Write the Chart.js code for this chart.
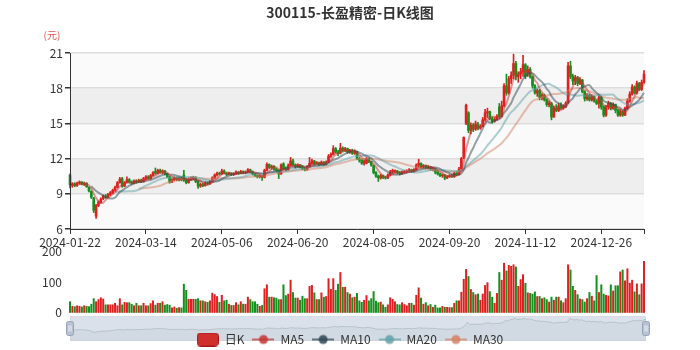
<!DOCTYPE html>
<html>
<head>
<meta charset="utf-8">
<script src="https://cdn.jsdelivr.net/npm/chart.js@4.4.1/dist/chart.umd.min.js"></script>
<style>
    html, body { margin: 0; padding: 0; background: #fff; overflow: hidden; }
    #wrap { position: relative; width: 700px; height: 350px; overflow: hidden; }
    #wrap canvas { position: absolute; left: 0; }
</style>
</head>
<body>
<div id="wrap">
    <canvas id="zoomBar" width="700" height="40" style="top:310px"></canvas>
    <canvas id="vol" width="700" height="92" style="top:236px"></canvas>
    <canvas id="kline" width="700" height="360" style="top:0"></canvas>
</div>
<script>
// trading calendar: first day + market holidays (weekends are skipped too)
const firstDay = '2024-01-22';
const holidays = [
    '2024-02-09', '2024-02-12', '2024-02-13', '2024-02-14', '2024-02-15', '2024-02-16',
    '2024-04-04', '2024-04-05', '2024-05-01', '2024-05-02', '2024-05-03', '2024-06-10',
    '2024-09-16', '2024-09-17', '2024-10-01', '2024-10-02', '2024-10-03', '2024-10-04',
    '2024-10-07', '2025-01-01'
];

const opens = [
    10.60, 9.70, 9.85, 9.70, 9.90, 10.00, 9.80, 9.90, 9.55, 9.20,
    8.60, 7.10, 8.00, 8.30, 8.60, 8.80, 8.70, 8.95, 9.10, 9.30,
    9.55, 9.95, 10.30, 9.65, 9.95, 10.20, 10.00, 9.90, 10.10, 10.00,
    10.15, 10.05, 10.30, 10.45, 10.30, 10.55, 10.90, 10.75, 11.00, 10.85,
    10.95, 10.70, 10.45, 10.00, 10.20, 10.35, 10.20, 10.30, 10.60, 10.15,
    9.95, 10.25, 10.30, 10.35, 10.05, 9.65, 9.80, 9.70, 9.90, 9.85,
    10.05, 10.35, 10.60, 10.75, 10.70, 10.95, 10.75, 10.65, 10.75, 10.65,
    10.70, 10.85, 10.75, 10.90, 10.80, 10.85, 11.05, 10.85, 10.70, 10.55,
    10.45, 10.50, 10.40, 11.00, 11.50, 11.25, 11.35, 11.10, 11.00, 10.70,
    11.55, 11.15, 11.05, 11.40, 11.80, 11.45, 11.30, 11.45, 11.30, 11.15,
    11.05, 11.30, 11.60, 11.80, 11.55, 11.65, 11.50, 11.70, 11.50, 11.70,
    12.20, 12.35, 12.85, 12.55, 12.45, 12.90, 12.70, 12.85, 12.55, 12.70,
    12.45, 12.60, 12.00, 11.85, 11.60, 11.60, 12.00, 11.75, 11.40, 10.80,
    10.50, 10.35, 10.55, 10.40, 10.35, 10.60, 10.85, 10.90, 10.95, 10.80,
    10.70, 10.85, 10.90, 10.95, 11.05, 10.90, 11.05, 11.45, 11.60, 11.30,
    11.40, 11.25, 11.30, 11.10, 11.15, 10.85, 10.70, 10.55, 10.60, 10.35,
    10.45, 10.55, 10.45, 10.75, 10.65, 11.15, 12.10, 15.00, 15.90, 14.40,
    14.85, 14.50, 14.90, 14.60, 14.75, 15.30, 15.90, 16.00, 15.40, 15.20,
    15.35, 16.40, 15.60, 16.50, 18.20, 17.60, 18.80, 19.10, 20.10, 19.00,
    19.20, 19.40, 20.00, 19.30, 19.60, 19.00, 18.20, 17.60, 17.80, 17.20,
    17.40, 17.00, 16.60, 16.70, 15.55, 16.30, 16.10, 16.50, 16.30, 16.45,
    16.80, 19.90, 19.00, 18.60, 18.90, 18.40, 18.70, 17.70, 17.10, 17.40,
    17.00, 17.30, 16.90, 16.70, 17.20, 16.40, 15.70, 16.40, 16.70, 16.30,
    16.60, 16.10, 15.70, 16.00, 15.70, 16.30, 16.90, 17.50, 18.10, 17.60,
    18.40, 17.90, 18.50
];
const closes = [
    9.75, 9.85, 9.70, 9.90, 10.00, 9.80, 9.90, 9.60, 9.25, 8.70,
    7.60, 8.00, 8.30, 8.55, 8.80, 8.70, 8.95, 9.10, 9.30, 9.55,
    9.95, 10.25, 9.65, 9.95, 10.20, 10.00, 9.90, 10.10, 10.00, 10.15,
    10.05, 10.30, 10.45, 10.30, 10.55, 10.80, 10.75, 11.00, 10.85, 10.95,
    10.70, 10.45, 10.00, 10.20, 10.35, 10.20, 10.30, 10.20, 10.15, 9.95,
    10.25, 10.35, 10.40, 10.05, 9.65, 9.80, 9.70, 9.90, 9.85, 10.05,
    10.35, 10.60, 10.75, 10.70, 10.95, 10.75, 10.65, 10.75, 10.65, 10.70,
    10.85, 10.75, 10.90, 10.80, 10.85, 11.05, 10.85, 10.70, 10.55, 10.45,
    10.50, 10.40, 11.00, 11.50, 11.25, 11.35, 11.10, 11.00, 10.70, 11.45,
    11.15, 11.05, 11.40, 11.80, 11.45, 11.30, 11.45, 11.30, 11.15, 11.05,
    11.30, 11.60, 11.80, 11.55, 11.65, 11.50, 11.70, 11.50, 11.70, 12.20,
    12.35, 12.85, 12.55, 12.45, 12.90, 12.70, 12.85, 12.55, 12.70, 12.45,
    12.60, 12.00, 11.85, 11.60, 11.75, 12.00, 11.75, 11.45, 10.80, 10.50,
    10.35, 10.55, 10.40, 10.35, 10.60, 10.85, 11.00, 10.95, 10.80, 10.70,
    10.85, 10.90, 10.95, 11.05, 10.90, 11.05, 11.45, 11.60, 11.30, 11.40,
    11.25, 11.30, 11.10, 11.15, 10.85, 10.70, 10.55, 10.60, 10.35, 10.45,
    10.55, 10.45, 10.75, 10.65, 11.10, 12.00, 13.80, 16.55, 14.40, 14.85,
    14.50, 14.90, 14.60, 14.75, 15.30, 15.90, 16.00, 15.40, 15.20, 15.35,
    15.60, 15.60, 16.50, 18.20, 17.60, 18.80, 19.10, 20.10, 19.00, 19.20,
    19.40, 20.00, 19.00, 19.60, 19.00, 18.20, 17.60, 17.80, 17.20, 17.40,
    17.00, 16.60, 16.75, 15.55, 16.30, 16.10, 16.50, 16.30, 16.45, 16.70,
    19.90, 19.00, 18.60, 18.90, 18.40, 18.70, 17.70, 17.10, 17.40, 17.00,
    17.30, 16.90, 16.70, 17.20, 16.40, 15.70, 16.40, 16.70, 16.30, 16.60,
    16.10, 15.70, 16.00, 15.70, 16.30, 16.90, 17.50, 18.10, 17.60, 18.40,
    17.90, 18.50, 19.20
];
const lows = [
    9.50, 9.55, 9.60, 9.62, 9.80, 9.75, 9.70, 9.55, 9.15, 8.60,
    7.40, 6.90, 7.90, 8.20, 8.50, 8.60, 8.65, 8.85, 9.00, 9.20,
    9.50, 9.90, 9.55, 9.60, 9.90, 9.90, 9.80, 9.85, 9.90, 9.95,
    9.95, 10.00, 10.20, 10.25, 10.25, 10.50, 10.65, 10.70, 10.75, 10.70,
    10.60, 10.40, 9.90, 9.95, 10.10, 10.10, 10.10, 10.10, 10.05, 9.85,
    9.90, 10.15, 10.20, 9.95, 9.45, 9.55, 9.60, 9.65, 9.75, 9.80,
    10.00, 10.30, 10.50, 10.60, 10.65, 10.70, 10.55, 10.60, 10.55, 10.55,
    10.65, 10.65, 10.70, 10.70, 10.70, 10.80, 10.80, 10.60, 10.45, 10.35,
    10.35, 10.15, 10.35, 10.95, 11.15, 11.10, 11.00, 10.90, 10.30, 10.65,
    11.05, 10.95, 11.00, 11.35, 11.35, 11.20, 11.25, 11.20, 11.05, 10.95,
    11.00, 11.25, 11.50, 11.45, 11.50, 11.40, 11.45, 11.40, 11.45, 11.65,
    12.10, 12.30, 12.45, 12.25, 12.40, 12.55, 12.60, 12.45, 12.45, 12.35,
    12.35, 11.90, 11.70, 11.50, 11.45, 11.55, 11.65, 11.35, 10.70, 10.40,
    10.05, 10.25, 10.30, 10.25, 10.30, 10.55, 10.75, 10.80, 10.70, 10.60,
    10.65, 10.75, 10.80, 10.85, 10.80, 10.85, 11.00, 11.30, 11.20, 11.20,
    11.15, 11.15, 11.00, 10.95, 10.70, 10.60, 10.45, 10.40, 10.20, 10.30,
    10.40, 10.40, 10.40, 10.55, 10.60, 11.10, 12.00, 14.90, 14.20, 14.10,
    14.30, 14.40, 14.45, 14.50, 14.70, 15.20, 15.50, 15.30, 15.00, 15.10,
    15.25, 15.45, 15.55, 16.40, 17.40, 17.50, 18.40, 18.80, 18.70, 18.50,
    18.80, 19.00, 18.80, 19.00, 18.85, 18.00, 17.50, 17.30, 17.00, 17.00,
    16.90, 16.45, 16.40, 15.30, 15.50, 16.00, 16.00, 16.20, 16.20, 16.35,
    16.70, 18.80, 18.30, 18.30, 18.20, 18.30, 17.60, 16.90, 16.95, 16.90,
    16.90, 16.80, 16.60, 16.30, 16.20, 15.55, 15.60, 16.20, 16.15, 16.20,
    15.90, 15.60, 15.60, 15.60, 15.65, 16.20, 16.80, 17.40, 17.50, 17.50,
    17.80, 17.80, 18.40
];
const highs = [
    10.70, 9.95, 9.95, 10.00, 10.10, 10.05, 10.00, 9.95, 9.60, 9.25,
    8.70, 8.10, 8.40, 8.65, 8.90, 8.95, 9.05, 9.20, 9.40, 9.65,
    10.05, 10.40, 10.40, 10.05, 10.45, 10.30, 10.10, 10.20, 10.20, 10.25,
    10.25, 10.40, 10.55, 10.55, 10.65, 10.90, 11.20, 11.10, 11.10, 11.05,
    11.00, 10.75, 10.50, 10.30, 10.45, 10.40, 10.40, 10.40, 11.00, 10.30,
    10.35, 10.45, 10.50, 10.45, 10.10, 9.90, 9.90, 10.00, 10.00, 10.15,
    10.45, 10.70, 10.85, 10.85, 11.10, 11.05, 10.85, 10.85, 10.80, 10.80,
    10.95, 10.90, 11.00, 10.95, 10.95, 11.15, 11.10, 10.95, 10.75, 10.60,
    10.60, 10.55, 11.10, 11.65, 11.55, 11.45, 11.40, 11.20, 11.05, 11.55,
    11.65, 11.30, 11.55, 12.10, 11.95, 11.55, 11.55, 11.50, 11.40, 11.25,
    11.40, 12.10, 11.95, 11.85, 11.75, 11.70, 11.80, 11.75, 11.80, 12.35,
    12.50, 13.10, 12.95, 12.70, 13.30, 13.00, 12.95, 12.90, 12.80, 12.80,
    12.75, 12.65, 12.10, 11.95, 11.85, 12.10, 12.05, 11.80, 11.45, 10.90,
    10.60, 10.65, 10.60, 10.50, 10.70, 11.00, 11.10, 11.05, 11.00, 10.90,
    10.95, 11.00, 11.05, 11.15, 11.10, 11.15, 11.55, 11.95, 11.65, 11.50,
    11.45, 11.40, 11.35, 11.25, 11.20, 10.95, 10.75, 10.70, 10.65, 10.55,
    10.65, 10.65, 10.85, 10.90, 11.25, 12.10, 13.85, 16.65, 16.00, 15.05,
    15.00, 15.20, 15.10, 14.90, 15.50, 16.20, 16.30, 16.05, 15.55, 15.50,
    15.75, 16.70, 16.90, 18.40, 19.20, 19.00, 19.40, 20.90, 20.30, 19.40,
    19.70, 20.80, 20.10, 19.90, 19.75, 19.05, 18.30, 17.95, 17.90, 17.55,
    17.50, 17.10, 16.90, 16.80, 16.45, 16.60, 16.70, 16.75, 16.60, 16.85,
    20.20, 20.30, 19.20, 19.10, 19.00, 18.90, 18.75, 17.80, 17.55, 17.50,
    17.45, 17.35, 17.00, 17.30, 17.30, 16.50, 16.55, 16.90, 16.80, 16.75,
    16.65, 16.20, 16.20, 16.10, 16.40, 17.10, 17.70, 18.30, 18.20, 18.60,
    18.50, 18.70, 19.50
];
// 成交量 (万手)
const volumes = [
    37, 22, 21, 24, 22, 20, 24, 22, 21, 29,
    47, 37, 44, 50, 46, 27, 27, 27, 27, 32,
    24, 47, 27, 35, 34, 34, 29, 24, 32, 24,
    24, 32, 24, 24, 31, 40, 26, 32, 32, 37,
    26, 28, 26, 17, 20, 16, 18, 17, 94, 74,
    45, 45, 45, 45, 47, 40, 40, 37, 35, 40,
    65, 60, 54, 35, 58, 40, 42, 29, 25, 25,
    34, 27, 37, 29, 29, 52, 44, 37, 37, 29,
    22, 25, 79, 92, 52, 52, 50, 49, 44, 44,
    92, 57, 62, 107, 67, 49, 49, 42, 55, 47,
    47, 87, 90, 66, 44, 44, 66, 52, 54, 112,
    77, 112, 74, 94, 132, 84, 84, 67, 62, 50,
    52, 64, 40, 35, 42, 57, 40, 47, 70, 39,
    34, 36, 27, 19, 27, 50, 45, 37, 28, 27,
    34, 28, 24, 32, 32, 26, 58, 82, 49, 29,
    34, 24, 28, 19, 26, 17, 17, 22, 19, 19,
    18, 18, 32, 40, 40, 68, 110, 142, 119, 77,
    67, 60, 62, 42, 62, 90, 99, 70, 52, 32,
    64, 132, 107, 162, 137, 155, 152, 157, 150, 87,
    109, 125, 97, 66, 64, 62, 69, 54, 54, 47,
    50, 44, 36, 52, 42, 52, 52, 40, 34, 47,
    157, 140, 87, 74, 60, 46, 44, 36, 47, 67,
    55, 40, 122, 67, 92, 62, 58, 56, 92, 72,
    89, 89, 134, 140, 105, 144, 97, 107, 69, 95,
    60, 95, 168
];
const maDays = [5, 10, 20, 30];
const labelEvery = 32;

const FONT = '"Noto Sans CJK SC", "Noto Sans", sans-serif';
const UP = '#e01f1f';
const DOWN = '#14901c';
const MA_COLORS = ['194,53,49', '47,69,84', '97,160,168', '212,130,101'];

Chart.defaults.font.family = FONT;
Chart.defaults.color = '#333';

function tradingDays(start, count) {
    const out = [];
    const d = new Date(start + 'T00:00:00Z');
    while (out.length < count) {
        const s = d.toISOString().slice(0, 10);
        const wd = d.getUTCDay();
        if (wd !== 0 && wd !== 6 && !holidays.includes(s)) out.push(s);
        d.setUTCDate(d.getUTCDate() + 1);
    }
    return out;
}

function calcMA(n) {
    return closes.map((c, i) => {
        if (i < n - 1) return null;
        let sum = 0;
        for (let j = 0; j < n; j++) sum += closes[i - j];
        return +(sum / n).toFixed(3);
    });
}

const dates = tradingDays(firstDay, closes.length);
const colors = closes.map((c, i) => (c >= opens[i] ? UP : DOWN));
const wicks = dates.map((d, i) => [lows[i], highs[i]]);
const bodies = dates.map((d, i) => {
    const lo = Math.min(opens[i], closes[i]);
    const hi = Math.max(opens[i], closes[i]);
    return [lo, Math.max(hi, lo + 0.03)];
});

// legend icons
function makeIcon(draw) {
    const c = document.createElement('canvas');
    c.width = 22;
    c.height = 14;
    draw(c.getContext('2d'));
    return c;
}
const kIcon = makeIcon(ctx => {
    ctx.beginPath();
    ctx.roundRect(0.5, 0.5, 21, 13, 3);
    ctx.fillStyle = '#d0302c';
    ctx.fill();
    ctx.strokeStyle = '#a31818';
    ctx.stroke();
});
const legendItems = [{
    text: '日K', pointStyle: kIcon, fillStyle: UP, strokeStyle: UP, lineWidth: 0, hidden: false, fontColor: '#333'
}].concat(maDays.map((n, k) => ({
    text: 'MA' + n,
    pointStyle: makeIcon(ctx => {
        ctx.strokeStyle = 'rgba(' + MA_COLORS[k] + ',0.7)';
        ctx.lineWidth = 2;
        ctx.beginPath();
        ctx.moveTo(0, 7);
        ctx.lineTo(22, 7);
        ctx.stroke();
        ctx.fillStyle = 'rgba(' + MA_COLORS[k] + ',0.85)';
        ctx.beginPath();
        ctx.arc(11, 7, 4.5, 0, Math.PI * 2);
        ctx.fill();
    }),
    fillStyle: 'transparent', strokeStyle: 'transparent', lineWidth: 0, hidden: false, fontColor: '#333'
})));

const splitBands = {
    id: 'splitBands',
    beforeDraw(chart) {
        const { ctx, chartArea: a, scales: { y } } = chart;
        const vals = y.ticks.map(t => t.value);
        ctx.save();
        for (let i = 0; i < vals.length - 1; i++) {
            const top = y.getPixelForValue(vals[i + 1]);
            const bot = y.getPixelForValue(vals[i]);
            ctx.fillStyle = i % 2 ? '#eeeeee' : '#fafafa';
            ctx.fillRect(a.left, top, a.right - a.left, bot - top);
        }
        ctx.restore();
    }
};

const unitName = {
    id: 'unitName',
    afterDraw(chart) {
        const { ctx, chartArea: a } = chart;
        ctx.save();
        ctx.font = '10px ' + FONT;
        ctx.fillStyle = '#e05555';
        ctx.textAlign = 'center';
        ctx.textBaseline = 'middle';
        ctx.fillText('(元)', a.left - 18, a.top - 18);
        ctx.restore();
    }
};

const sliderFrame = {
    id: 'sliderFrame',
    beforeDraw(chart) {
        const { ctx, chartArea: a } = chart;
        ctx.save();
        ctx.fillStyle = 'rgba(167,183,204,0.42)';
        ctx.fillRect(a.left, a.top, a.right - a.left, a.bottom - a.top);
        ctx.strokeStyle = '#d6dbe3';
        ctx.strokeRect(a.left + 0.5, a.top + 0.5, a.right - a.left - 1, a.bottom - a.top - 1);
        ctx.restore();
    },
    afterDraw(chart) {
        const { ctx, chartArea: a } = chart;
        const mid = (a.top + a.bottom) / 2;
        ctx.save();
        [a.left, a.right].forEach(x => {
            ctx.beginPath();
            ctx.roundRect(x - 3.5, mid - 7, 7, 14, 2);
            ctx.fillStyle = '#b7c3d4';
            ctx.fill();
            ctx.strokeStyle = '#93a3ba';
            ctx.lineWidth = 1;
            ctx.stroke();
            ctx.strokeStyle = '#eef1f6';
            ctx.beginPath();
            ctx.moveTo(x - 1, mid - 3);
            ctx.lineTo(x - 1, mid + 3);
            ctx.moveTo(x + 1, mid - 3);
            ctx.lineTo(x + 1, mid + 3);
            ctx.stroke();
        });
        ctx.restore();
    }
};

const tickFont = { family: FONT, size: 12 };

new Chart(document.getElementById('kline'), {
    type: 'bar',
    data: {
        labels: dates,
        datasets: [
            { label: 'wick', data: wicks, backgroundColor: colors, barThickness: 1, grouped: false, clip: false, order: 3 },
            { label: '日K', data: bodies, backgroundColor: colors, barThickness: 2, grouped: false, clip: false, order: 2 }
        ].concat(maDays.map((n, k) => ({
            type: 'line',
            label: 'MA' + n,
            data: calcMA(n),
            borderColor: 'rgba(' + MA_COLORS[k] + ',0.5)',
            borderWidth: 2,
            pointRadius: 0,
            tension: 0.35,
            fill: false,
            order: 1
        })))
    },
    options: {
        responsive: false,
        animation: false,
        events: [],
        layout: { padding: { left: 0, right: 0, top: 0, bottom: 4.5 } },
        plugins: {
            title: {
                display: true,
                text: '300115-长盈精密-日K线图',
                color: '#333',
                font: { family: FONT, size: 14, weight: 'bold' },
                padding: { top: 4, bottom: 32.2 }
            },
            legend: {
                position: 'bottom',
                onClick: null,
                labels: {
                    usePointStyle: true,
                    pointStyleWidth: 22,
                    padding: 8,
                    color: '#333',
                    font: tickFont,
                    generateLabels: () => legendItems
                }
            },
            tooltip: { enabled: false }
        },
        scales: {
            x: {
                type: 'category',
                offset: false,
                grid: { display: true, drawOnChartArea: false, drawTicks: true, tickLength: 5, tickColor: '#333', offset: false },
                border: { color: '#333', z: 1 },
                ticks: {
                    autoSkip: false,
                    maxRotation: 0,
                    minRotation: 0,
                    padding: 1,
                    color: '#333',
                    font: tickFont,
                    callback: (v, i) => (i % labelEvery === 0 ? dates[i] : (i === dates.length - 1 ? '' : null))
                },
                afterFit: s => { s.height = 96.5; }
            },
            y: {
                min: 6,
                max: 21,
                ticks: { stepSize: 3, color: '#333', font: tickFont, padding: 2 },
                grid: { color: '#dddddd', lineWidth: 1.5, tickLength: 5, tickColor: '#333' },
                border: { color: '#333', z: 1 },
                afterFit: s => { s.width = 70; }
            },
            yPad: {
                type: 'linear',
                position: 'right',
                grid: { display: false },
                ticks: { display: false },
                border: { display: false },
                afterFit: s => { s.width = 56; }
            }
        }
    },
    plugins: [splitBands, unitName]
});

new Chart(document.getElementById('vol'), {
    type: 'bar',
    data: {
        labels: dates,
        datasets: [{ data: volumes, backgroundColor: colors, barPercentage: 0.85, categoryPercentage: 1, clip: false }]
    },
    options: {
        responsive: false,
        animation: false,
        events: [],
        layout: { padding: { left: 0, right: 56, top: 12, bottom: 14 } },
        plugins: { legend: { display: false }, tooltip: { enabled: false } },
        scales: {
            x: { type: 'category', offset: false, display: false },
            y: {
                min: 0,
                max: 200,
                ticks: { stepSize: 100, color: '#333', font: tickFont, padding: 8 },
                grid: { display: false, drawTicks: false },
                border: { display: false },
                afterFit: s => { s.width = 70; }
            }
        }
    }
});

new Chart(document.getElementById('zoomBar'), {
    type: 'line',
    data: {
        labels: dates,
        datasets: [{
            data: closes,
            borderColor: 'rgba(47,69,84,0.22)',
            borderWidth: 0.8,
            backgroundColor: 'rgba(47,69,84,0.05)',
            fill: 'start',
            pointRadius: 0,
            tension: 0
        }]
    },
    options: {
        responsive: false,
        animation: false,
        events: [],
        layout: { padding: { left: 70, right: 54, top: 6, bottom: 9 } },
        plugins: { legend: { display: false }, tooltip: { enabled: false } },
        scales: {
            x: { type: 'category', offset: false, display: false },
            y: { display: false, min: 0, max: 22 }
        }
    },
    plugins: [sliderFrame]
});
</script>
</body>
</html>
